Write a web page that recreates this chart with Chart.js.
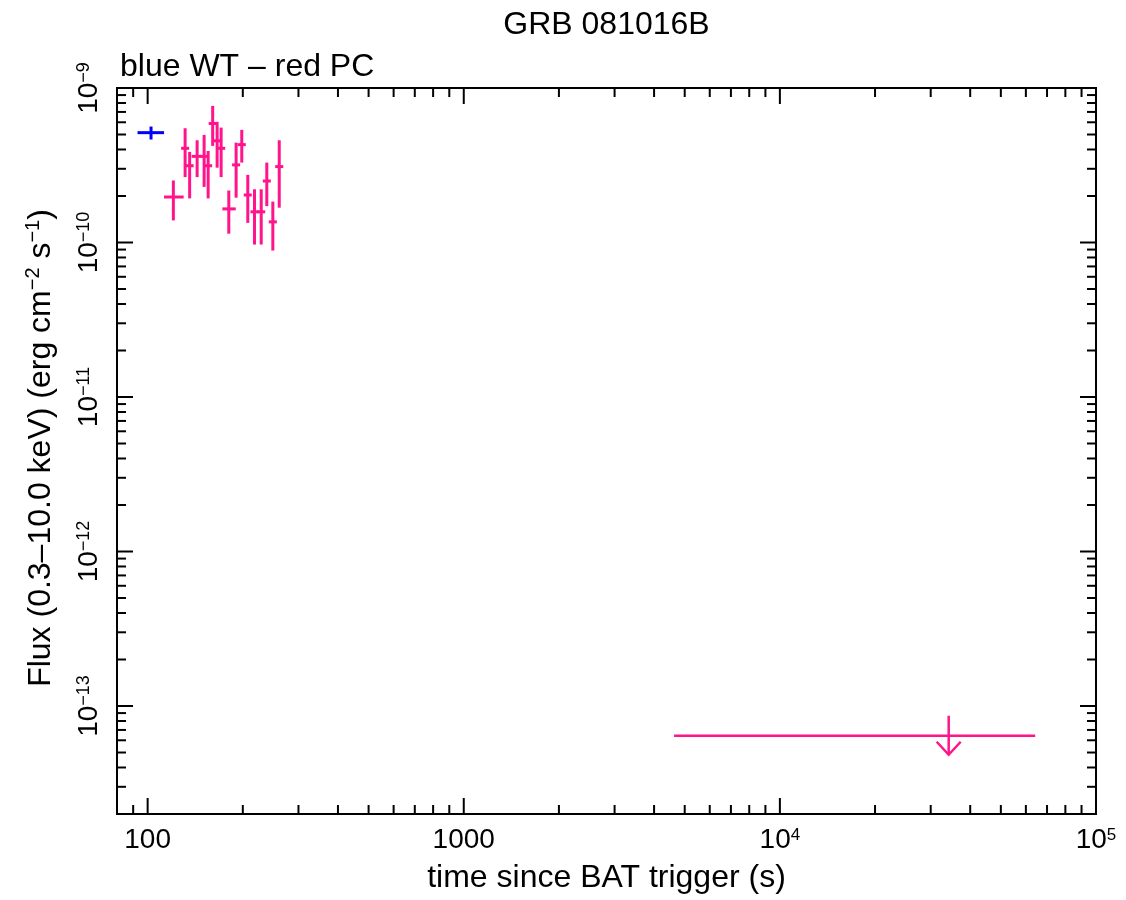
<!DOCTYPE html>
<html>
<head>
<meta charset="utf-8">
<title>GRB 081016B</title>
<script src="https://cdn.jsdelivr.net/npm/chart.js@4.4.1/dist/chart.umd.min.js"></script>
<style>
  html, body { margin: 0; padding: 0; background: #fff; }
  canvas { display: block; }
</style>
</head>
<body>
<canvas id="lc" width="1126" height="900"></canvas>
<script>
'use strict';

// ---- data ----
// WT mode (blue)
const wtTime = [102.5];
const wtTlo  = [92.9];
const wtThi  = [112.7];
const wtFlux = [5.14e-10];
const wtFlo  = [4.64e-10];
const wtFhi  = [5.63e-10];

// PC mode (red)
const pcTime = [120.6, 131.4, 135.8, 143.4, 150.9, 155.4, 160.6, 165.9, 170.8, 180.6, 190.5, 198.5, 207.4, 217.8, 228.7, 238.2, 248.9, 260.8];
const pcTlo  = [112.7, 127.6, 131.9, 137.8, 146.6, 150.9, 156.0, 161.1, 165.9, 172.4, 185.0, 192.8, 201.4, 211.5, 222.1, 231.4, 241.7, 253.3];
const pcThi  = [130.0, 135.3, 139.8, 147.6, 154.6, 160.0, 165.4, 170.8, 175.9, 190.0, 196.1, 204.4, 213.5, 224.3, 235.5, 245.3, 256.3, 268.5];
const pcFlux = [1.97e-10, 4.07e-10, 3.14e-10, 3.61e-10, 3.61e-10, 3.14e-10, 5.89e-10, 4.55e-10, 4.07e-10, 1.65e-10, 3.18e-10, 4.30e-10, 2.03e-10, 1.58e-10, 1.58e-10, 2.50e-10, 1.36e-10, 3.10e-10];
const pcFlo  = [1.39e-10, 2.65e-10, 1.93e-10, 2.65e-10, 2.29e-10, 1.93e-10, 4.22e-10, 3.05e-10, 2.65e-10, 1.14e-10, 1.95e-10, 3.29e-10, 1.34e-10, 0.97e-10, 0.97e-10, 1.72e-10, 0.887e-10, 1.68e-10];
const pcFhi  = [2.52e-10, 5.49e-10, 3.86e-10, 4.59e-10, 4.97e-10, 3.91e-10, 7.66e-10, 6.04e-10, 5.54e-10, 2.17e-10, 4.43e-10, 5.36e-10, 2.74e-10, 2.21e-10, 2.21e-10, 3.29e-10, 1.84e-10, 4.59e-10];

// PC upper limit
const ulTime = [34200];
const ulTlo  = [4627];
const ulThi  = [64220];
const ulFlux = [6.42e-14];

// axes
const xMin = 80, xMax = 1e5;
const yMin = 2e-14, yMax = 1e-9;
const xTickVals = [100, 1000, 1e4, 1e5];
const xTickLabels = [['100', ''], ['1000', ''], ['10', '4'], ['10', '5']];
const yTickVals = [1e-13, 1e-12, 1e-11, 1e-10, 1e-9];
const yTickLabels = [['10', '−13'], ['10', '−12'], ['10', '−11'], ['10', '−10'], ['10', '−9']];

const TITLE = 'GRB 081016B';
const SUBTITLE = 'blue WT – red PC';
const X_TITLE = 'time since BAT trigger (s)';
const Y_TITLE = [['Flux (0.3–10.0 keV) (erg cm', false], ['−2', true], [' s', false], ['−1', true], [')', false]];

const BLUE = '#0000ff';
const PINK = '#ff148c';
const FONT = "'Liberation Sans', Arial, Helvetica, sans-serif";

// text with superscripts; segs = [[text, isSup], ...]
const drawRich = (ctx, segs, x, y, size, supSize, rise, align, rot) => {
  const font = s => `${s}px ${FONT}`;
  let w = 0;
  segs.forEach(([t, sup]) => { ctx.font = font(sup ? supSize : size); w += ctx.measureText(t).width; });
  ctx.save();
  ctx.translate(x, y);
  if (rot) ctx.rotate(rot);
  let cx = align === 'left' ? 0 : align === 'right' ? -w : -w / 2;
  ctx.textAlign = 'left';
  ctx.textBaseline = 'alphabetic';
  ctx.fillStyle = '#000';
  segs.forEach(([t, sup]) => {
    ctx.font = font(sup ? supSize : size);
    ctx.fillText(t, cx, sup ? -rise : 0);
    cx += ctx.measureText(t).width;
  });
  ctx.restore();
};

const line = (ctx, x1, y1, x2, y2) => {
  ctx.beginPath(); ctx.moveTo(x1, y1); ctx.lineTo(x2, y2); ctx.stroke();
};

const logTicks = (lo, hi) => {
  const out = [];
  for (let e = Math.floor(Math.log10(lo)); e <= Math.ceil(Math.log10(hi)); e++) {
    for (let m = 1; m < 10; m++) {
      const v = m * Math.pow(10, e);
      if (v >= lo * 0.999 && v <= hi * 1.001) out.push({ v, major: m === 1 });
    }
  }
  return out;
};

const framePlugin = {
  id: 'frame',
  afterDraw(chart) {
    const { ctx, chartArea: a, scales: { x, y } } = chart;
    ctx.save();
    ctx.strokeStyle = '#000';
    ctx.lineWidth = 2;
    ctx.strokeRect(a.left, a.top, a.right - a.left, a.bottom - a.top);

    logTicks(xMin, xMax).forEach(t => {
      const px = x.getPixelForValue(t.v);
      const len = t.major ? 16 : 9;
      line(ctx, px, a.bottom, px, a.bottom - len);
      line(ctx, px, a.top, px, a.top + len);
    });
    logTicks(yMin, yMax).forEach(t => {
      const py = y.getPixelForValue(t.v);
      const len = t.major ? 16 : 9;
      line(ctx, a.left, py, a.left + len, py);
      line(ctx, a.right, py, a.right - len, py);
    });

    xTickVals.forEach((v, i) => {
      const [b, e] = xTickLabels[i];
      drawRich(ctx, [[b, false], [e, true]], x.getPixelForValue(v), 848, 28, 17, 8, 'center');
    });
    yTickVals.forEach((v, i) => {
      const [b, e] = yTickLabels[i];
      drawRich(ctx, [[b, false], [e, true]], 97, y.getPixelForValue(v), 28, 18, 8, 'center', -Math.PI / 2);
    });

    drawRich(ctx, [[TITLE, false]], (a.left + a.right) / 2, 34, 32, 20, 0, 'center');
    drawRich(ctx, [[SUBTITLE, false]], 120, 76, 32, 20, 0, 'left');
    drawRich(ctx, [[X_TITLE, false]], (a.left + a.right) / 2, 887, 32, 20, 0, 'center');
    drawRich(ctx, Y_TITLE, 50, (a.top + a.bottom) / 2 - 3, 32, 20, 11, 'center', -Math.PI / 2);
    ctx.restore();
  }
};

const errorBarPlugin = {
  id: 'errorbars',
  afterDatasetsDraw(chart) {
    const { ctx, chartArea: a, scales: { x, y } } = chart;
    ctx.save();
    ctx.beginPath();
    ctx.rect(a.left, a.top, a.right - a.left, a.bottom - a.top);
    ctx.clip();
    ctx.lineCap = 'butt';

    const bars = (t, tlo, thi, f, flo, fhi, color) => {
      ctx.strokeStyle = color;
      ctx.lineWidth = 3;
      t.forEach((tv, i) => {
        const px = x.getPixelForValue(tv), py = y.getPixelForValue(f[i]);
        line(ctx, x.getPixelForValue(tlo[i]), py, x.getPixelForValue(thi[i]), py);
        line(ctx, px, y.getPixelForValue(fhi[i]), px, y.getPixelForValue(flo[i]));
      });
    };
    bars(wtTime, wtTlo, wtThi, wtFlux, wtFlo, wtFhi, BLUE);
    bars(pcTime, pcTlo, pcThi, pcFlux, pcFlo, pcFhi, PINK);

    // upper limits: horizontal bar + downward arrow
    ctx.strokeStyle = PINK;
    ctx.lineWidth = 2.5;
    ulTime.forEach((tv, i) => {
      const px = x.getPixelForValue(tv), py = y.getPixelForValue(ulFlux[i]);
      line(ctx, x.getPixelForValue(ulTlo[i]), py, x.getPixelForValue(ulThi[i]), py);
      line(ctx, px, py - 20, px, py + 19);
      ctx.beginPath();
      ctx.moveTo(px - 12, py + 6);
      ctx.lineTo(px, py + 19);
      ctx.lineTo(px + 12, py + 6);
      ctx.stroke();
    });
    ctx.restore();
  }
};

new Chart(document.getElementById('lc'), {
  type: 'scatter',
  data: {
    datasets: [
      { label: 'WT', data: wtTime.map((t, i) => ({ x: t, y: wtFlux[i] })), pointRadius: 0, borderColor: BLUE, backgroundColor: BLUE },
      { label: 'PC', data: pcTime.map((t, i) => ({ x: t, y: pcFlux[i] })), pointRadius: 0, borderColor: PINK, backgroundColor: PINK },
      { label: 'PC upper limit', data: ulTime.map((t, i) => ({ x: t, y: ulFlux[i] })), pointRadius: 0, borderColor: PINK, backgroundColor: PINK }
    ]
  },
  options: {
    responsive: false,
    animation: false,
    events: [],
    layout: { padding: { left: 117, right: 30, top: 88, bottom: 86 } },
    plugins: { legend: { display: false }, tooltip: { enabled: false } },
    scales: {
      x: { type: 'logarithmic', min: xMin, max: xMax, bounds: 'data', display: false },
      y: { type: 'logarithmic', min: yMin, max: yMax, bounds: 'data', display: false }
    }
  },
  plugins: [errorBarPlugin, framePlugin]
});
</script>
</body>
</html>
